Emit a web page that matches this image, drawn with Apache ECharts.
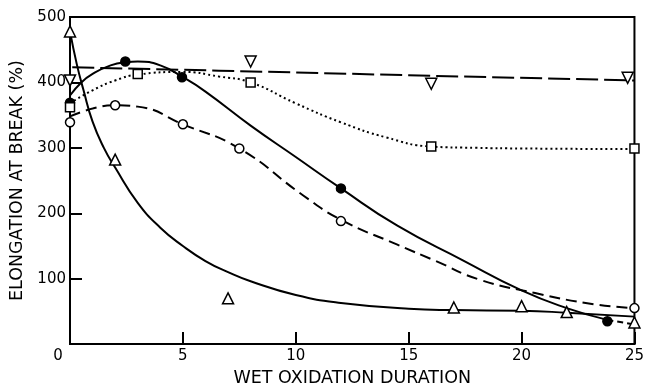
<!DOCTYPE html>
<html>
<head>
<meta charset="utf-8">
<script src="https://cdn.jsdelivr.net/npm/echarts@6/dist/echarts.min.js"></script>
<style>html,body{margin:0;padding:0;background:#fff}#c{width:647px;height:392px}</style>
</head>
<body>
<div id="c"></div>
<script>
// Open triangles (markers) and their fitted solid curve
const triX = [0, 2, 7, 17, 20, 22, 25];
const triY = [478, 282, 70, 56, 58, 49, 33];
const triCurveX = [0, 0.3, 0.6, 1, 1.5, 2, 3, 4, 5, 6, 7, 8, 10, 12, 15, 17, 20, 22, 25];
const triCurveY = [478, 428, 388, 340, 300, 270, 216, 178, 150, 127, 110, 96, 75, 63, 54, 52, 51, 48, 42];

// Filled circles and solid curve (dashed tail to 25)
const dotX = [0, 2.45, 4.96, 12, 23.8];
const dotY = [369, 432, 408, 238, 35];
const dotCurveX = [0, 0.5, 1, 1.8, 2.5, 3, 4, 5, 6, 8, 10, 12, 14.5, 17.4, 20, 22, 23.8];
const dotCurveY = [380, 400, 413, 426, 431, 432, 426, 408, 386, 334, 286, 238, 181, 128, 82, 55, 37];
const dotTailX = [23.8, 25];
const dotTailY = [37, 30];

// Open circles and long-dashed curve
const circX = [0, 2, 5, 7.5, 12, 25];
const circY = [339, 365, 336, 299, 188, 55];
const circCurveX = [0, 1, 2, 3, 5, 7.5, 10.3, 12, 14.5, 16.2, 18.1, 20.6, 23.2, 25];
const circCurveY = [348, 360, 365, 363, 336, 299, 228, 190, 152, 127, 99, 78, 61, 55];

// Open squares and dotted curve
const sqX = [0, 3, 8, 16, 25];
const sqY = [362, 413, 400, 302, 299];
const sqCurveX = [0, 1, 2, 3, 5, 6.6, 8, 10, 12, 14, 16, 18, 20, 25];
const sqCurveY = [368, 388, 403, 412, 416, 409, 400, 368, 339, 316, 302, 300, 299, 298];

// Inverted triangles and dashed line
const invX = [0, 8, 16, 24.7];
const invY = [403, 432, 398, 407];
const invLineX = [0.1, 6.6, 16.2, 25];
const invLineY = [423, 418, 410, 403];

// Axis ticks
const xTicks = [0, 5, 10, 15, 20, 25];
const yTicks = [100, 200, 300, 400, 500];

const pairs = (xs, ys) => xs.map((x, i) => [x, ys[i]]);
const FONT = 'DejaVu Sans';

const lineSeries = (xs, ys, dash, smooth) => ({
  type: 'line', data: pairs(xs, ys), smooth: smooth === undefined ? 0.5 : smooth,
  showSymbol: false, silent: true,
  lineStyle: { color: '#000', width: 2, type: dash || 'solid', cap: 'butt' }, z: 2
});
const markSeries = (xs, ys, symbol, filled, rotate, size) => ({
  type: 'scatter', data: pairs(xs, ys), symbol: symbol, symbolSize: size || 9,
  symbolRotate: rotate || 0, silent: true,
  itemStyle: { color: filled ? '#000' : '#fff', borderColor: '#000', borderWidth: 1.5, opacity: 1 }, z: 5
});

const chart = echarts.init(document.getElementById('c'), null, { renderer: 'canvas' });
chart.setOption({
  animation: false,
  backgroundColor: '#fff',
  grid: { left: 69, right: 6, top: 17, bottom: 40, show: true, borderColor: '#000', borderWidth: 2, backgroundColor: 'transparent' },
  xAxis: {
    type: 'value', min: 0, max: 25, interval: 5,
    name: 'WET OXIDATION DURATION', nameLocation: 'middle', nameGap: 23,
    nameTextStyle: { fontFamily: FONT, fontSize: 17.5, color: '#000' },
    axisLine: { show: true, lineStyle: { color: '#000', width: 2 } },
    axisTick: { show: true, inside: true, length: 12, lineStyle: { color: '#000', width: 2 } },
    splitLine: { show: false },
    axisLabel: {
      fontFamily: FONT, fontSize: 15, color: '#000', margin: 5,
      formatter: v => xTicks.includes(v) ? (v === 0 ? '{z|0}' : String(v)) : '',
      rich: { z: { fontFamily: FONT, fontSize: 15, color: '#000', padding: [0, 24, 0, 0] } }
    }
  },
  yAxis: {
    type: 'value', min: 0, max: 500, interval: 100,
    name: 'ELONGATION AT BREAK (%)', nameLocation: 'middle', nameGap: 44, nameRotate: 90,
    nameTextStyle: { fontFamily: FONT, fontSize: 17.5, color: '#000' },
    axisLine: { show: true, lineStyle: { color: '#000', width: 2 } },
    axisTick: { show: true, inside: true, length: 12, lineStyle: { color: '#000', width: 2 } },
    splitLine: { show: false },
    axisLabel: {
      fontFamily: FONT, fontSize: 15, color: '#000', margin: 4,
      formatter: v => yTicks.includes(v) ? String(v) : ''
    }
  },
  series: [
    lineSeries(triCurveX, triCurveY),
    lineSeries(dotCurveX, dotCurveY),
    lineSeries(dotTailX, dotTailY, [6, 4], false),
    lineSeries(circCurveX, circCurveY, [11, 6]),
    lineSeries(sqCurveX, sqCurveY, [2, 3]),
    lineSeries(invLineX, invLineY, [22, 6], false),
    markSeries(triX, triY, 'triangle', false, 0, 11),
    markSeries(dotX, dotY, 'circle', true, 0, 9),
    markSeries(circX, circY, 'circle', false, 0, 9),
    markSeries(sqX, sqY, 'rect', false, 0, 9),
    markSeries(invX, invY, 'triangle', false, 180, 11)
  ]
});
</script>
</body>
</html>
